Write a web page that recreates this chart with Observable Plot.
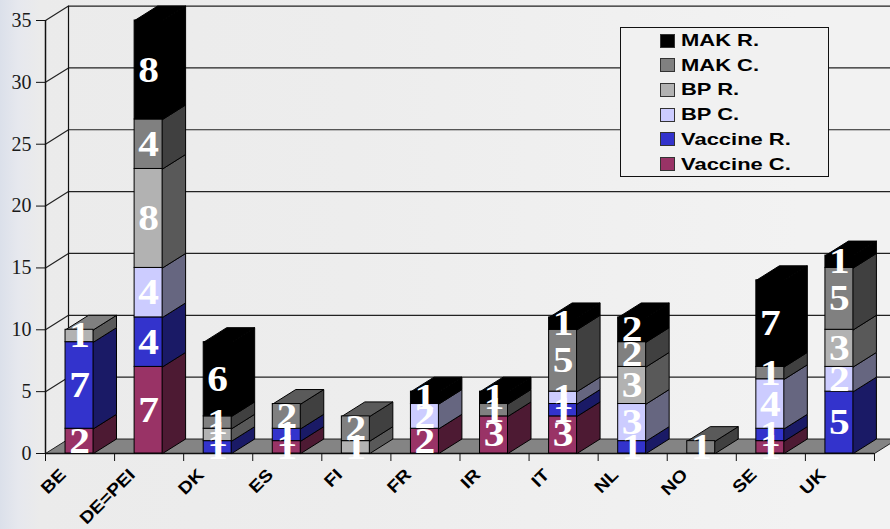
<!DOCTYPE html>
<html>
<head>
<meta charset="utf-8">
<script src="https://cdn.jsdelivr.net/npm/d3@7"></script>
<script src="https://cdn.jsdelivr.net/npm/@observablehq/plot@0.6"></script>
<style>
  html, body { margin: 0; padding: 0; }
  body {
    position: relative; width: 890px; height: 529px; overflow: hidden;
    background: linear-gradient(90deg, #dbe0ea 0, #e6e8ee 18px, #ebebeb 40px, #ededed 350px, #f2f2f2 800px);
  }
  svg { display: block; background: transparent !important; }
  #legend {
    position: absolute; left: 620px; top: 26.5px; width: 209px; height: 150px;
    box-sizing: border-box; border: 1.5px solid #111; background: #f1f1f1;
  }
  #legend .row { position: absolute; left: 39px; height: 20px; display: flex; align-items: center; }
  #legend .swatch { width: 13px; height: 12px; border: 1px solid #333; box-sizing: content-box; margin-right: 6px; }
  #legend .name {
    font: bold 16.5px "Liberation Sans", Arial, sans-serif; color: #000;
    transform: scaleX(1.33); transform-origin: left center; white-space: nowrap;
  }
</style>
</head>
<body>
<div id="chart"></div>
<div id="legend"></div>
<script>
// Countries and the number of trials per stack segment, bottom to top.
const countries = ["BE", "DE=PEI", "DK", "ES", "FI", "FR", "IR", "IT", "NL", "NO", "SE", "UK"];
const seriesNames = ["Vaccine C.", "Vaccine R.", "BP C.", "BP R.", "MAK C.", "MAK R."];
const vaccineC = [2, 7, 0, 1, 0, 2, 3, 3, 0, 0, 1, 0];
const vaccineR = [7, 4, 1, 1, 0, 0, 0, 1, 1, 0, 1, 5];
const bpC      = [0, 4, 0, 0, 0, 2, 0, 1, 3, 0, 4, 2];
const bpR      = [1, 8, 1, 0, 1, 0, 0, 0, 3, 0, 0, 3];
const makC     = [0, 4, 1, 2, 2, 0, 1, 5, 2, 1, 1, 5];
const makR     = [0, 8, 6, 0, 0, 1, 1, 1, 2, 0, 7, 1];
const yTicks = [0, 5, 10, 15, 20, 25, 30, 35];

const seriesValues = [vaccineC, vaccineR, bpC, bpR, makC, makR];
const frontColors = ["#993366", "#3333cc", "#ccccff", "#b2b2b2", "#808080", "#000000"];
const sideColors  = ["#4d1a33", "#1a1a66", "#666680", "#595959", "#404040", "#000000"];
const topColors   = ["#6b2447", "#24248f", "#8f8fb3", "#808080", "#5a5a5a", "#000000"];

// Oblique projection of the depth axis, in data units, and the bar's place in its slot.
const depthX = 0.333, depthY = 1.17;
const barStart = 0.29, barWidth = 0.405;
const xEnd = 12.232;
// The side and top faces tuck slightly under the front face so no seam shows on black bars.
const tuckX = 0.012, tuckY = 0.06;

// Stack the segments and build the front, side and top faces of each bar.
const segments = [], sides = [], tops = [];
countries.forEach((country, c) => {
  let base = 0, last = null;
  seriesValues.forEach((values, s) => {
    const v = values[c];
    if (!v) return;
    const seg = { country, c, s, v, y1: base, y2: base + v, x1: c + barStart, x2: c + barStart + barWidth };
    segments.push(seg);
    const id = `${c}-${s}`;
    [[seg.x2 - tuckX, seg.y1], [seg.x2, seg.y1], [seg.x2 + depthX, seg.y1 + depthY], [seg.x2 + depthX, seg.y2 + depthY], [seg.x2, seg.y2], [seg.x2 - tuckX, seg.y2], [seg.x2 - tuckX, seg.y1]]
      .forEach(([x, y]) => sides.push({ id, x, y, fill: sideColors[s] }));
    base += v;
    last = seg;
  });
  const id = `${c}-top`;
  const t = last.y2;
  [[last.x1, t - tuckY], [last.x2, t - tuckY], [last.x2, t], [last.x2 + depthX, t + depthY], [last.x1 + depthX, t + depthY], [last.x1, t], [last.x1, t - tuckY]]
    .forEach(([x, y]) => tops.push({ id, x, y, fill: topColors[last.s] }));
});

// Floor and walls of the chart box.
const floor = [[0, 0], [12, 0], [12 + depthX, depthY], [depthX, depthY], [0, 0]].map(([x, y]) => ({ x, y }));
const wallLines = yTicks.filter(v => v > 0).flatMap(v => [
  { id: v, x: 0, y: v }, { id: v, x: depthX, y: v + depthY }, { id: v, x: 12.4, y: v + depthY }
]);
const wallEdge = [{ x: depthX, y: depthY }, { x: depthX, y: 35 + depthY }];

const chart = Plot.plot({
  width: 890,
  height: 529,
  marginLeft: 45,
  marginRight: 0,
  marginTop: 20,
  marginBottom: 76,
  style: { background: "transparent", overflow: "hidden" },
  x: { domain: [0, xEnd], axis: null },
  y: { domain: [0, 35], axis: null },
  color: { type: "identity" },
  marks: [
    Plot.line(wallLines, { x: "x", y: "y", z: "id", stroke: "#222", strokeWidth: 1.2 }),
    Plot.line(wallEdge, { x: "x", y: "y", stroke: "#111", strokeWidth: 1.2 }),
    Plot.line(floor, { x: "x", y: "y", fill: "#848484", stroke: "#222", strokeWidth: 1 }),
    Plot.axisY({ ticks: yTicks, tickSize: 9, tickPadding: 5, fontSize: 20, fontFamily: "Liberation Serif, serif", color: "#1a1a1a", stroke: "#111", label: null }),
    Plot.ruleX([0], { y1: 0, y2: 35, stroke: "#111", strokeWidth: 1.5 }),
    Plot.ruleY([0], { x1: 0, x2: 12, stroke: "#111", strokeWidth: 1.5 }),
    Plot.axisX({ ticks: d3.range(0, 13), tickSize: 8, tickFormat: () => "", stroke: "#111", label: null }),
    Plot.line(sides, { x: "x", y: "y", z: "id", fill: "fill", stroke: "#000", strokeWidth: 1 }),
    Plot.line(tops, { x: "x", y: "y", z: "id", fill: "fill", stroke: "#000", strokeWidth: 1 }),
    Plot.rect(segments, { x1: "x1", x2: "x2", y1: "y1", y2: "y2", fill: d => frontColors[d.s], stroke: "#000", strokeWidth: 1 }),
    Plot.text(segments, {
      x: d => (d.x1 + d.x2) / 2, y: d => (d.y1 + d.y2) / 2, text: d => String(d.v),
      fill: "white", fontSize: 36, fontWeight: "bold", fontFamily: "Liberation Serif, serif", className: "count"
    }),
    Plot.text(countries, {
      x: (d, i) => i + 0.5, y: d => 0, text: d => d, dx: -17, dy: 18.5, rotate: -45, textAnchor: "end",
      fill: "black", fontSize: 17, fontWeight: "bold", fontFamily: "Liberation Sans, Arial, sans-serif", className: "country"
    })
  ]
});
document.getElementById("chart").append(chart);

// Widen the glyphs the way the chart's wide aspect does.
const widen = (selector, k) => d3.select(chart).selectAll(selector)
  .attr("transform", function () { return (this.getAttribute("transform") || "") + ` scale(${k},1)`; });
widen(".count text", 1.15);
widen(".country text", 1.15);

// Legend, listed top of stack first.
const legend = d3.select("#legend");
seriesNames.map((name, s) => ({ name, s })).reverse().forEach(({ name, s }, i) => {
  const row = legend.append("div").attr("class", "row").style("top", `${3 + i * 24.7}px`);
  row.append("div").attr("class", "swatch").style("background", frontColors[s]);
  row.append("div").attr("class", "name").text(name);
});
</script>
</body>
</html>
